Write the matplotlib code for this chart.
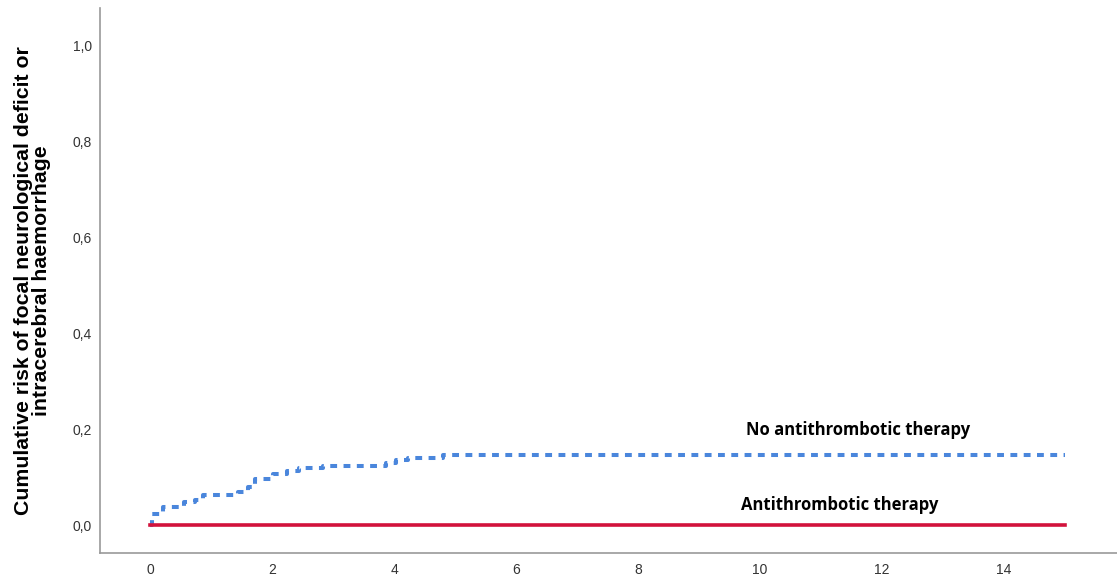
import matplotlib
matplotlib.use("Agg")
import matplotlib.pyplot as plt

# Step times (years) and cumulative risk for "No antithrombotic therapy"
no_at_time = [0.0, 0.03, 0.22, 0.55, 0.74, 0.87, 1.45, 1.61, 1.72, 2.02, 2.24, 2.45, 2.83, 3.87, 4.04, 4.23, 4.80, 15.0]
no_at_risk = [0.0, 0.024, 0.038, 0.048, 0.052, 0.062, 0.069, 0.080, 0.096, 0.106, 0.113, 0.119, 0.123, 0.130, 0.135, 0.141, 0.147, 0.147]

# "Antithrombotic therapy": no events
at_time = [0.0, 15.0]
at_risk = [0.0, 0.0]

x_ticks = [0, 2, 4, 6, 8, 10, 12, 14]
y_ticks = [0.0, 0.2, 0.4, 0.6, 0.8, 1.0]
y_tick_labels = ["0,0", "0,2", "0,4", "0,6", "0,8", "1,0"]

fig = plt.figure(figsize=(11.17, 5.81), dpi=100)
ax = fig.add_axes([0.0895, 0.048, 0.9105, 0.938])

ax.step(no_at_time, no_at_risk, where="post", color="#4a86dc", lw=2.9,
        linestyle=(0, (1.7, 1.6)))
ax.step(at_time, at_risk, where="post", color="#d2123c", lw=2.6)

ax.set_xlim(-0.82, 15.85)
ax.set_ylim(-0.058, 1.077)
ax.set_xticks(x_ticks)
ax.set_xticklabels([str(t) for t in x_ticks])
ax.set_yticks(y_ticks)
ax.set_yticklabels(y_tick_labels)
ax.tick_params(length=0, labelsize=10, colors="#333333")
ax.tick_params(axis="x", pad=7)
ax.tick_params(axis="y", pad=6)
for lab in ax.get_xticklabels() + ax.get_yticklabels():
    lab.set_family("Liberation Sans")

for s in ["top", "right"]:
    ax.spines[s].set_visible(False)
for s in ["left", "bottom"]:
    ax.spines[s].set_color("#999999")
    ax.spines[s].set_linewidth(1.2)

ax.set_ylabel("Cumulative risk of focal neurological deficit or\nintracerebral haemorrhage",
              fontsize=15.3, family="Liberation Sans", fontweight="bold", labelpad=15,
              linespacing=0.95)

ax.text(11.6, 0.198, "No antithrombotic therapy", ha="center", va="center",
        fontsize=12, fontweight="bold", family="Open Sans")
ax.text(11.3, 0.042, "Antithrombotic therapy", ha="center", va="center",
        fontsize=12, fontweight="bold", family="Open Sans")

fig.savefig("out.png", dpi=100)
